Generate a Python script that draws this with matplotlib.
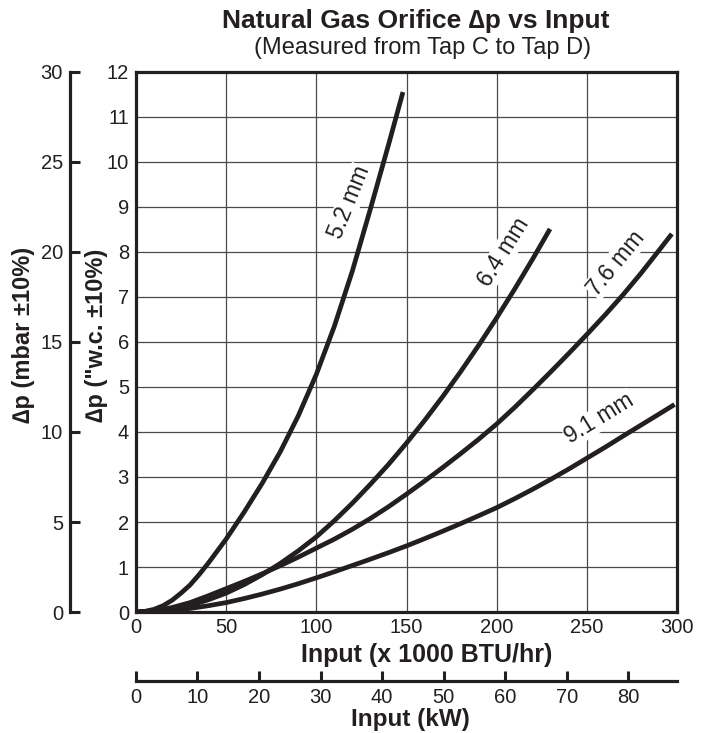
import matplotlib
matplotlib.use("Agg")
import matplotlib.pyplot as plt

plt.rcParams['font.family'] = ['Liberation Sans', 'DejaVu Sans']

# input (x 1000 BTU/hr) and delta p ("w.c.)
x_52 = [0, 5, 10, 15, 20, 25, 30, 35, 40, 50, 60, 70, 80, 90, 100, 110, 120, 130, 140, 148]
y_52 = [0, 0.015, 0.06, 0.14, 0.26, 0.42, 0.6, 0.83, 1.08, 1.62, 2.22, 2.86, 3.56, 4.36,
        5.28, 6.35, 7.58, 8.96, 10.38, 11.55]

x_64 = [0, 10, 20, 30, 40, 50, 60, 70, 80, 90, 100, 110, 120, 130, 140, 150, 160, 170,
        180, 190, 200, 210, 220, 229.5]
y_64 = [0, 0.02, 0.07, 0.15, 0.27, 0.42, 0.61, 0.83, 1.08, 1.36, 1.67, 2.03, 2.42, 2.84,
        3.28, 3.755, 4.256, 4.785, 5.342, 5.927, 6.54, 7.181, 7.85, 8.51]

x_76 = [0, 10, 20, 30, 40, 50, 60, 70, 80, 90, 100, 110, 120, 130, 140, 150, 160, 170,
        180, 190, 200, 210, 220, 230, 240, 250, 260, 270, 280, 290, 297]
y_76 = [0, 0.03, 0.1, 0.21, 0.36, 0.52, 0.68, 0.85, 1.03, 1.22, 1.42, 1.62, 1.84, 2.08,
        2.34, 2.62, 2.91, 3.21, 3.52, 3.84, 4.18, 4.55, 4.94, 5.34, 5.75, 6.17, 6.6, 7.05,
        7.53, 8.04, 8.4]

x_91 = [0, 10, 20, 30, 40, 50, 60, 70, 80, 90, 100, 110, 120, 130, 140, 150, 160, 170,
        180, 190, 200, 210, 220, 230, 240, 250, 260, 270, 280, 290, 298.5]
y_91 = [0, 0.01, 0.04, 0.08, 0.14, 0.21, 0.3, 0.4, 0.51, 0.63, 0.76, 0.895, 1.035, 1.175,
        1.32, 1.47, 1.63, 1.795, 1.965, 2.14, 2.32, 2.52, 2.73, 2.95, 3.18, 3.42, 3.66,
        3.91, 4.155, 4.4, 4.61]

labels = ["5.2 mm", "6.4 mm", "7.6 mm", "9.1 mm"]
label_pos = [(118, 9.1, 68), (204, 8.0, 58), (266, 7.75, 50.6), (257, 4.3, 31.6)]

KW_PER_KBTU = 0.29307
INK = '#231f20'

fig = plt.figure(figsize=(7.04, 7.33), dpi=100)
ax = fig.add_axes([0.193, 0.165, 0.769, 0.737])

for xs, ys in [(x_52, y_52), (x_64, y_64), (x_76, y_76), (x_91, y_91)]:
    ax.plot(xs, ys, color=INK, lw=3.4, solid_capstyle='butt',
            solid_joinstyle='round', zorder=3)

for txt, (lx, ly, rot) in zip(labels, label_pos):
    ax.text(lx, ly, txt, rotation=rot, rotation_mode='anchor', ha='center', va='center',
            fontsize=16.5, color=INK, zorder=2.5,
            bbox=dict(facecolor='white', edgecolor='none', pad=0.5))

ax.set_xlim(0, 300)
ax.set_ylim(0, 12)
ax.set_xticks(range(0, 301, 50))
ax.set_yticks(range(0, 13))
ax.grid(True, color='#4a4a4a', lw=0.9)
ax.tick_params(length=0, labelsize=14.5, colors=INK)
ax.tick_params(axis='x', pad=4)
ax.tick_params(axis='y', pad=5)
for s in ax.spines.values():
    s.set_linewidth(2.3)
    s.set_color(INK)
ax.set_xlabel('Input (x 1000 BTU/hr)', fontsize=18, fontweight='bold', color=INK)
ax.xaxis.set_label_coords(0.538, -0.080)
ax.xaxis.label.set_va('center')
ax.set_ylabel('\u2206p ("w.c. \u00b110%)', fontsize=17, fontweight='bold', color=INK)
ax.yaxis.set_label_coords(-0.072, 0.513)
ax.yaxis.label.set_va('center')

# mbar axis on the left
ax2 = ax.twinx()
ax2.yaxis.set_ticks_position('left')
for k in ['right', 'top', 'bottom']:
    ax2.spines[k].set_visible(False)
ax2.spines['left'].set_position(('outward', 47.5))
ax2.spines['left'].set_linewidth(2.3)
ax2.spines['left'].set_color(INK)
ax2.set_ylim(0, 30)
ax2.set_yticks(range(0, 31, 5))
ax2.tick_params(axis='y', direction='in', length=7, width=2.2, labelsize=14.5,
                colors=INK, pad=5)
ax2.set_ylabel('\u2206p (mbar \u00b110%)', fontsize=17, fontweight='bold', color=INK)
ax2.yaxis.set_label_position('left')
ax2.yaxis.set_label_coords(-0.207, 0.513)
ax2.yaxis.label.set_va('center')

# kW axis at the bottom
ax3 = ax.twiny()
ax3.xaxis.set_ticks_position('bottom')
for k in ['right', 'top', 'left']:
    ax3.spines[k].set_visible(False)
ax3.spines['bottom'].set_position(('outward', 50))
ax3.spines['bottom'].set_linewidth(2.3)
ax3.spines['bottom'].set_color(INK)
ax3.set_xlim(0, 300 * KW_PER_KBTU)
ax3.set_xticks(range(0, 81, 10))
ax3.tick_params(axis='x', direction='in', length=7, width=2.2, labelsize=14.5,
                colors=INK, pad=5)
ax3.set_xlabel('Input (kW)', fontsize=17.5, fontweight='bold', color=INK)
ax3.xaxis.set_label_position('bottom')
ax3.xaxis.set_label_coords(0.508, -0.198)
ax3.xaxis.label.set_va('center')

fig.text(0.59, 0.972, 'Natural Gas Orifice \u2206p vs Input', ha='center', va='center',
         fontsize=19, fontweight='bold', color=INK)
fig.text(0.60, 0.935, '(Measured from Tap C to Tap D)', ha='center', va='center',
         fontsize=17, color=INK)

fig.savefig('out.png', dpi=100)
